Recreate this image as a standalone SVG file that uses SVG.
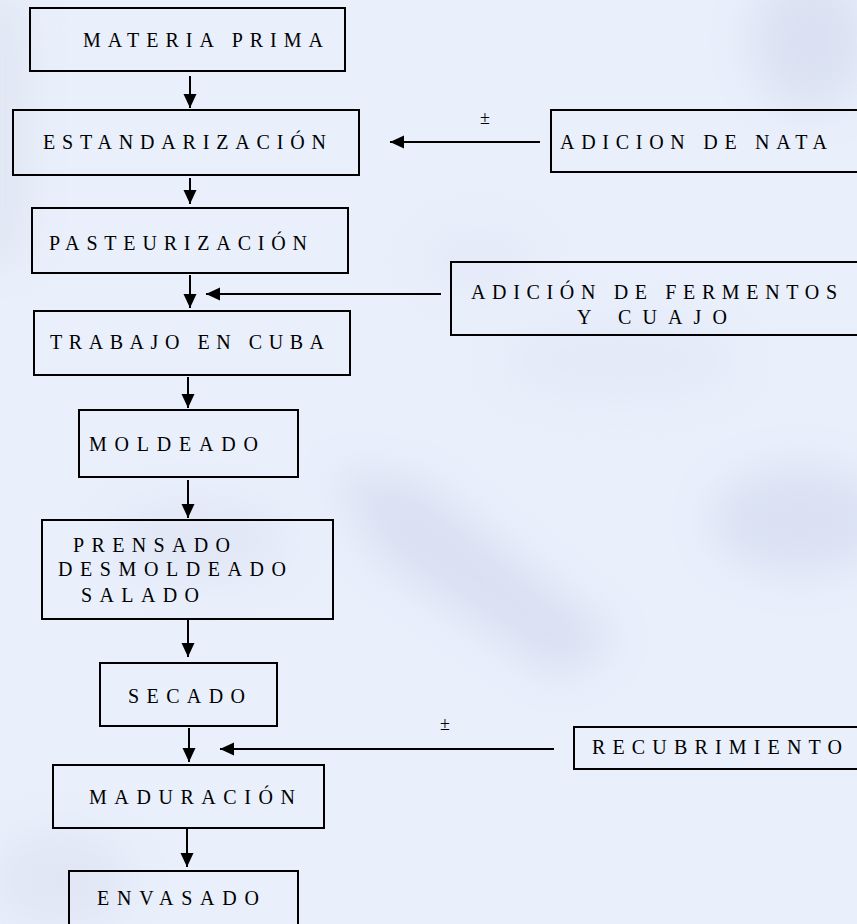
<svg xmlns="http://www.w3.org/2000/svg" width="857" height="924" viewBox="0 0 857 924">
<defs>
<style>
.box{fill:none;stroke:#000;stroke-width:2}
.ln{stroke:#000;stroke-width:2;fill:none}
</style>
<marker id="ah" viewBox="0 0 14 14" refX="14" refY="7" markerWidth="14" markerHeight="14" markerUnits="userSpaceOnUse" orient="auto">
<path d="M0,0.5 L14,7 L0,13.5 z" fill="#000"/>
</marker>
<filter id="blur" x="-50%" y="-50%" width="200%" height="200%"><feGaussianBlur stdDeviation="22"/></filter>
</defs>
<rect x="0" y="0" width="857" height="924" fill="#e9effb"/>
<g filter="url(#blur)" opacity="0.45">
<rect x="-20" y="0" width="45" height="260" fill="#d3d8e6"/>
<ellipse cx="810" cy="40" rx="60" ry="70" fill="#c9d0e6"/>
<path d="M330,470 L420,480 L620,640 L560,680 L380,560 Z" fill="#c7cee6"/>
<ellipse cx="800" cy="520" rx="90" ry="55" fill="#c9d0e8"/>
<ellipse cx="200" cy="540" rx="90" ry="40" fill="#d8def0"/>
<ellipse cx="620" cy="360" rx="120" ry="40" fill="#dde3f3"/>
<ellipse cx="60" cy="880" rx="70" ry="50" fill="#d6dcec"/>
<ellipse cx="480" cy="260" rx="60" ry="30" fill="#dde3f2"/>
</g>
<g font-family="Liberation Serif, Times New Roman, serif" font-size="20" fill="#000">
<g id="connectors">
<line class="ln" x1="190" y1="76" x2="190" y2="108" marker-end="url(#ah)"/>
<line class="ln" x1="190" y1="178" x2="190" y2="204" marker-end="url(#ah)"/>
<line class="ln" x1="190" y1="275" x2="190" y2="308" marker-end="url(#ah)"/>
<line class="ln" x1="188" y1="377" x2="188" y2="408" marker-end="url(#ah)"/>
<line class="ln" x1="188" y1="480" x2="188" y2="518" marker-end="url(#ah)"/>
<line class="ln" x1="188" y1="620" x2="188" y2="657" marker-end="url(#ah)"/>
<line class="ln" x1="189" y1="728" x2="189" y2="762" marker-end="url(#ah)"/>
<line class="ln" x1="187" y1="829" x2="187" y2="867" marker-end="url(#ah)"/>
<line class="ln" x1="540" y1="142" x2="390" y2="142" marker-end="url(#ah)"/>
<line class="ln" x1="441" y1="294" x2="206" y2="294" marker-end="url(#ah)"/>
<line class="ln" x1="554" y1="749" x2="220" y2="749" marker-end="url(#ah)"/>
<text x="480" y="124" font-size="18">±</text>
<text x="440" y="730" font-size="18">±</text>
</g>
<g id="materia-prima">
<rect class="box" x="30" y="8" width="315" height="63"/>
<text x="83" y="47" textLength="240" lengthAdjust="spacing">MATERIA PRIMA</text>
</g>
<g id="estandarizacion">
<rect class="box" x="13" y="110" width="346" height="65"/>
<text x="43" y="149" textLength="283" lengthAdjust="spacing">ESTANDARIZACIÓN</text>
</g>
<g id="adicion-nata">
<rect class="box" x="551" y="110" width="330" height="62"/>
<text x="560" y="149" textLength="267" lengthAdjust="spacing">ADICION DE NATA</text>
</g>
<g id="pasteurizacion">
<rect class="box" x="32" y="208" width="316" height="65"/>
<text x="49" y="250" textLength="258" lengthAdjust="spacing">PASTEURIZACIÓN</text>
</g>
<g id="adicion-fermentos">
<rect class="box" x="451" y="262" width="430" height="73"/>
<text x="471" y="299" textLength="366" lengthAdjust="spacing">ADICIÓN DE FERMENTOS</text>
<text x="577" y="324" textLength="150" lengthAdjust="spacing">Y CUAJO</text>
</g>
<g id="trabajo-cuba">
<rect class="box" x="34" y="311" width="316" height="64"/>
<text x="50" y="349" textLength="274" lengthAdjust="spacing">TRABAJO EN CUBA</text>
</g>
<g id="moldeado">
<rect class="box" x="79" y="410" width="219" height="67"/>
<text x="89" y="451" textLength="169" lengthAdjust="spacing">MOLDEADO</text>
</g>
<g id="prensado">
<rect class="box" x="42" y="520" width="291" height="99"/>
<text x="73" y="552" textLength="157" lengthAdjust="spacing">PRENSADO</text>
<text x="58" y="576" textLength="228" lengthAdjust="spacing">DESMOLDEADO</text>
<text x="81" y="602" textLength="118" lengthAdjust="spacing">SALADO</text>
</g>
<g id="secado">
<rect class="box" x="100" y="663" width="177" height="63"/>
<text x="128" y="703" textLength="117" lengthAdjust="spacing">SECADO</text>
</g>
<g id="recubrimiento">
<rect class="box" x="574" y="727" width="310" height="42"/>
<text x="592" y="754" textLength="250" lengthAdjust="spacing">RECUBRIMIENTO</text>
</g>
<g id="maduracion">
<rect class="box" x="53" y="765" width="271" height="63"/>
<text x="89" y="804" textLength="206" lengthAdjust="spacing">MADURACIÓN</text>
</g>
<g id="envasado">
<rect class="box" x="69" y="871" width="229" height="80"/>
<text x="97" y="905" textLength="162" lengthAdjust="spacing">ENVASADO</text>
</g>
</g>
</svg>
